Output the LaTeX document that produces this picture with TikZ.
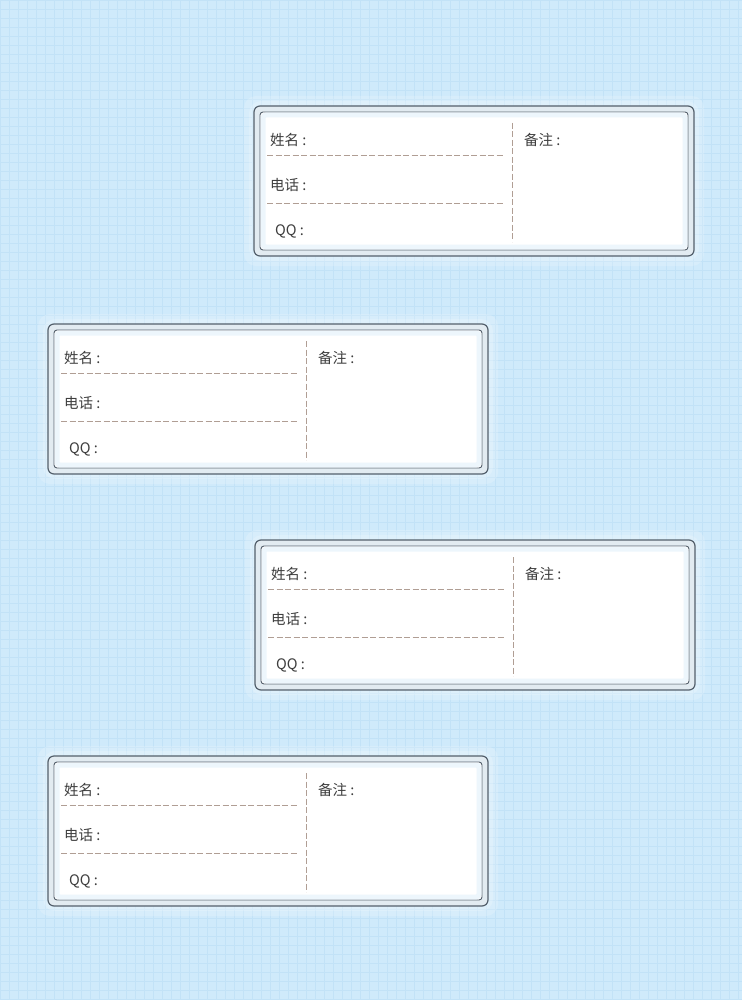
\documentclass[tikz,border=0pt]{standalone}
\usepackage{fontspec}
\usepackage{tikz}
\setmainfont{Noto Sans CJK SC}
\definecolor{fond}{RGB}{207,234,251}
\definecolor{quadrillage}{RGB}{194,226,247}
\definecolor{bord}{RGB}{84,96,108}
\definecolor{entre}{RGB}{226,235,241}
\definecolor{pointille}{RGB}{176,158,148}
\definecolor{encre}{RGB}{62,62,62}
\definecolor{brume}{RGB}{226,240,250}
\tikzset{
  cadre/.style={draw=bord, line width=1.2pt, fill=entre, rounded corners=6pt},
  interieur/.style={draw=bord, line width=0.9pt, fill=white, rounded corners=3pt},
  halo/.style={fill=white, opacity=0.18, rounded corners=12pt},
  etiquette/.style={anchor=west, inner sep=0pt, text=encre, font=\fontsize{14.5}{16}\selectfont},
  ligne/.style={pointille, dashed, dash pattern=on 6pt off 2.5pt, line width=0.6pt}
}
% une fiche : #1 nom, (#2,#3) coin en haut a gauche
\newcommand{\fiche}[3]{
\fill [halo] (#2-10,#3-10) rectangle (#2+450,#3+160);
\fill [halo] (#2-5,#3-5) rectangle (#2+445,#3+155);
\draw [cadre] (#2,#3) rectangle (#2+440,#3+150);
\draw [interieur] (#2+6,#3+6) rectangle (#2+434,#3+144);
\draw [brume, line width=5pt, opacity=0.6, rounded corners=3pt] (#2+9,#3+9) rectangle (#2+431,#3+141);
\node [etiquette] (#1nom) at (#2+16,#3+34) {姓名 :};
\node [etiquette] (#1tel) at (#2+16,#3+79) {电话 :};
\node [etiquette] (#1qq) at (#2+21,#3+125) {QQ :};
\node [etiquette] (#1note) at (#2+270,#3+34) {备注 :};
\coordinate (#1a) at (#2+13,#3+49);
\coordinate (#1b) at (#2+250,#3+49);
\coordinate (#1c) at (#2+13,#3+97);
\coordinate (#1d) at (#2+250,#3+97);
\coordinate (#1h) at (#2+258,#3+17);
\coordinate (#1k) at (#2+258,#3+136);
\draw [ligne] (#1a) -- (#1b);
\draw [ligne] (#1c) -- (#1d);
\draw [ligne] (#1h) -- (#1k);
}

\begin{document}
\begin{tikzpicture}[x=1pt,y=-1pt]
\useasboundingbox (0,0) rectangle (742,1000);
\fill [fond] (0,0) rectangle (742,1000);
\draw [quadrillage, line width=0.4pt, step=9pt] (0,0) grid (742,1000);
\fiche{un}{254}{106}
\fiche{deux}{48}{324}
\fiche{trois}{255}{540}
\fiche{quatre}{48}{756}
\end{tikzpicture}
\end{document}
